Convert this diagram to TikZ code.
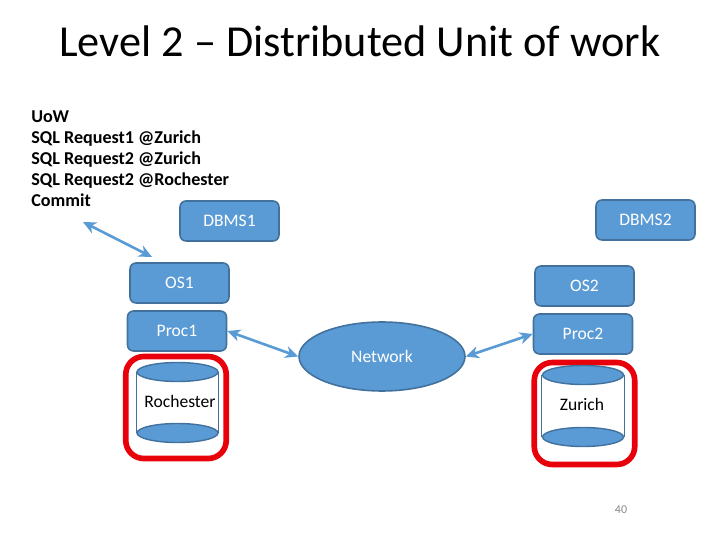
\documentclass[tikz,border=0pt]{standalone}
\usepackage{fontspec}
\setmainfont{Carlito}
\usetikzlibrary{shapes.geometric,arrows.meta}
\definecolor{boxfill}{HTML}{5B9BD5}
\definecolor{boxline}{HTML}{41719C}
\definecolor{framered}{HTML}{E8000B}
\definecolor{pagenum}{HTML}{898989}
\tikzset{
    unitbox/.style={rectangle, rounded corners=0.12cm, draw=boxline, line width=0.9pt, fill=boxfill, text=white, minimum width=1.98cm, minimum height=0.8cm, inner sep=0pt, font=\fontsize{10}{12}\selectfont},
    disk/.style={ellipse, draw=boxline, line width=0.8pt, fill=boxfill, minimum width=1.62cm, minimum height=0.38cm, inner sep=0pt},
    frame/.style={rectangle, rounded corners=0.36cm, draw=framered, line width=3.2pt, minimum width=2.01cm, minimum height=2.04cm},
    disktext/.style={font=\fontsize{10}{12}\selectfont, inner sep=0pt},
    link/.style={draw=boxfill, line width=1.5pt, {Stealth[length=0.26cm,width=0.24cm,inset=0.08cm]}-{Stealth[length=0.26cm,width=0.24cm,inset=0.08cm]}}
}
\begin{document}
\begin{tikzpicture}[x=0.02cm,y=-0.02cm]
    \useasboundingbox (0,0) rectangle (720,540);

    \node (title) [font=\fontsize{25.2}{30}\selectfont, inner sep=0pt] at (360,41) {Level 2 – Distributed Unit of work};
    \node (uow) [anchor=west, align=left, inner sep=0pt, font=\fontsize{10.3}{11.9}\selectfont\bfseries] at (31,158.5) {UoW\\SQL Request1 @Zurich\\SQL Request2 @Zurich\\SQL Request2 @Rochester\\Commit};

    \node (dbms1) [unitbox] at (229.5,221) {DBMS1};
    \node (os1) [unitbox] at (179.5,283) {OS1};
    \node (proc1) [unitbox] at (177,331) {Proc1};
    \node (dbms2) [unitbox] at (645.5,220) {DBMS2};
    \node (os2) [unitbox] at (584.5,286) {OS2};
    \node (proc2) [unitbox] at (583,334) {Proc2};
    \node (network) [ellipse, draw=boxline, line width=0.9pt, fill=boxfill, text=white, minimum width=3.32cm, minimum height=1.38cm, inner sep=0pt, font=\fontsize{10}{12}\selectfont] at (382,356.5) {Network};

    % left database
    \node (frame1) [frame] at (176,407.5) {};
    \node (disk1top) [disk] at (177.5,372) {};
    \node (disk1bot) [disk] at (177.5,433) {};
    \draw [boxline, line width=0.5pt] (disk1top.west) -- (disk1bot.west);
    \draw [boxline, line width=0.5pt] (disk1top.east) -- (disk1bot.east);
    \node (rochester) [disktext] at (180,401) {Rochester};

    % right database
    \node (frame2) [frame] at (584.5,413.5) {};
    \node (disk2top) [disk] at (583,375) {};
    \node (disk2bot) [disk] at (583,437) {};
    \draw [boxline, line width=0.5pt] (disk2top.west) -- (disk2bot.west);
    \draw [boxline, line width=0.5pt] (disk2top.east) -- (disk2bot.east);
    \node (zurich) [disktext] at (582,404) {Zurich};

    \coordinate (commitend) at (83,222);
    \coordinate (osend) at (152,257);
    \draw [link] (commitend) -- (osend);
    \draw [link] (proc1.east) -- (network.west);
    \draw [link] (network.east) -- (proc2.west);

    \node (pagenr) [text=pagenum, inner sep=0pt, font=\fontsize{6.8}{8}\selectfont] at (621,510) {40};
\end{tikzpicture}
\end{document}
